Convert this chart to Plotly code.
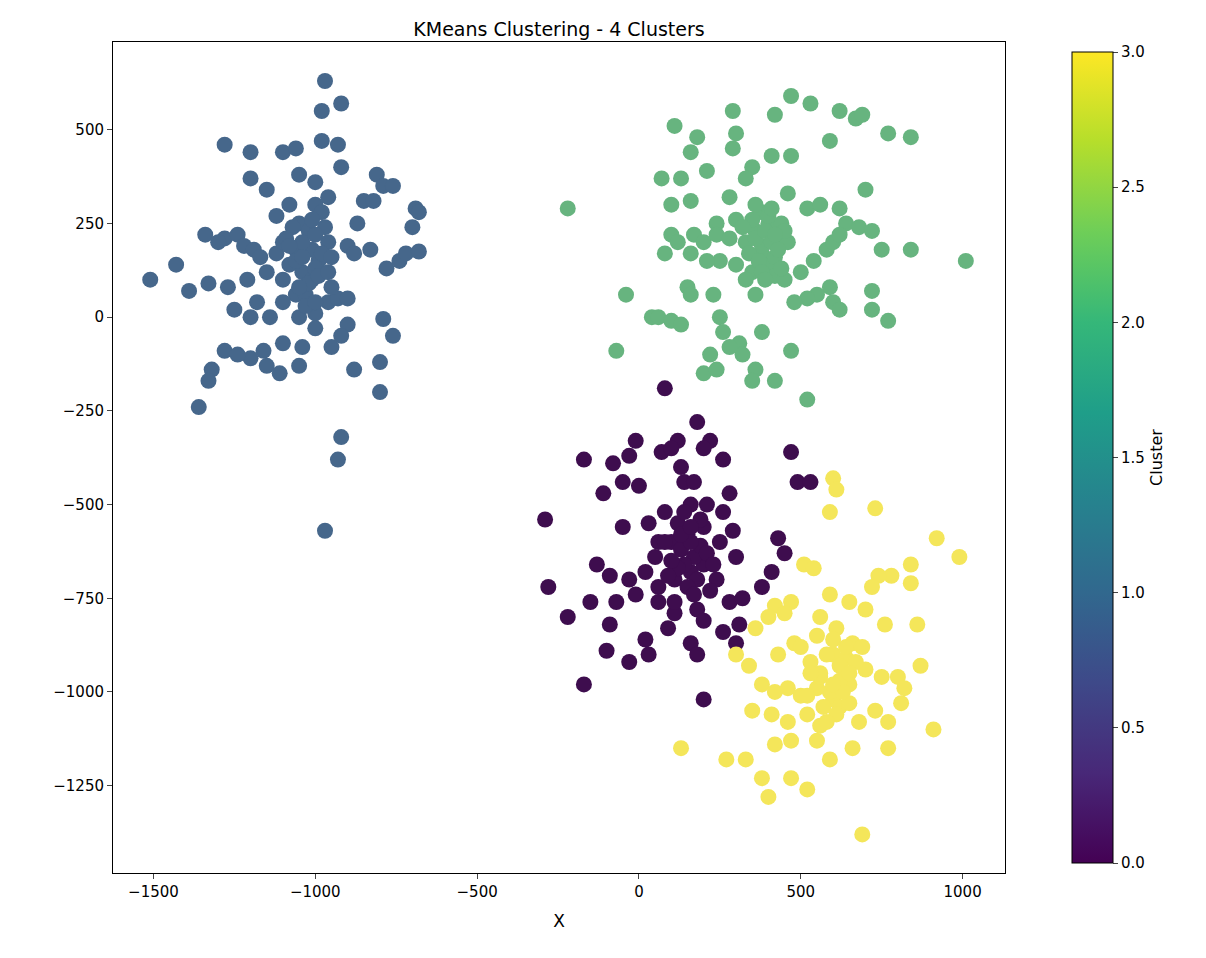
import plotly.graph_objects as go

# Cluster 0 (purple)
c0_x = [80, 180, 220, 120, -10, -30, -170, -80, 70, 100, 200, 260, 0, 130, -50, 140, 170, 280, 470, 490,
        530, 80, 160, 210, 260, -110, -290, -50, 30, 100, 150, 200, 250, 290, 300, 430, 450, 410, 380, -130,
        -280, -90, -30, 20, 60, 110, 160, 200, 240, 280, 320, -150, -70, -10, 60, 110, 180, 200, 260, 300,
        310, -220, -90, 20, 90, -100, -30, 30, 160, 180, -170, 200, 130, 170, 120, 50, 190,
        140, 160, 180, 120, 100, 150, 170, 130, 90, 210, 230, 60, 140, 190, 110, 80, 220, 160]
c0_y = [-190, -280, -330, -330, -330, -370, -380, -390, -360, -350, -350, -380, -450, -400, -440, -440, -440, -470, -360, -440,
        -440, -520, -500, -500, -520, -470, -540, -560, -550, -600, -580, -560, -600, -570, -640, -590, -630, -680, -720, -660,
        -720, -690, -700, -680, -720, -700, -680, -660, -700, -760, -750, -760, -760, -740, -760, -790, -780, -810, -840, -870,
        -820, -800, -820, -860, -830, -890, -920, -900, -870, -900, -980, -1020, -620, -640, -550, -640, -610,
        -660, -600, -700, -670, -650, -720, -740, -580, -690, -630, -660, -600, -520, -540, -760, -600, -730, -560]

# Cluster 1 (blue)
c1_x = [-970, -920, -980, -1280, -1200, -1100, -1060, -980, -930, -920, -1200, -1150, -1050, -1000, -810, -790, -760, -850, -820, -690,
        -680, -1280, -1240, -1340, -1300, -1220, -1190, -1120, -1100, -1050, -1020, -970, -960, -870, -900, -880, -830, -780, -740, -720,
        -680, -700, -1510, -1430, -1390, -1330, -1270, -1210, -1170, -1150, -1080, -1040, -1010, -990, -1060, -1100, -1180, -1250, -1200, -1140,
        -1050, -1000, -960, -930, -900, -1000, -1040, -1100, -1160, -1200, -1280, -1320, -1330, -1360, -1240, -1150, -1110, -1050, -900, -920,
        -950, -880, -800, -790, -760, -800, -920, -930, -970, -1000, -960, -1080, -1120, -1010, -1060, -1000, -950, -1030, -980, -1100,
        -1040, -1000, -1060, -980, -1020, -1070, -990, -1030, -1090, -950, -1010, -1050, -960, -1080, -1000, -1040]
c1_y = [630, 570, 550, 460, 440, 440, 450, 470, 460, 400, 370, 340, 380, 360, 380, 350, 350, 310, 310, 290,
        280, 210, 220, 220, 200, 190, 180, 170, 200, 250, 230, 240, 200, 250, 190, 170, 180, 130, 150, 170,
        175, 240, 100, 140, 70, 90, 80, 100, 160, 120, 140, 120, 100, 150, 60, 40, 40, 20, 0, 0,
        0, 10, 40, 50, 50, -30, -80, -70, -90, -110, -90, -140, -170, -240, -100, -130, -150, -130, -20, -50,
        -80, -140, -120, -5, -50, -200, -320, -380, -570, 300, 320, 300, 270, 180, 180, 130, 80, 60, 280, 100,
        200, 220, 150, 170, 90, 240, 110, 30, 210, 160, 260, 80, 120, 190, 40, 160]

# Cluster 2 (green)
c2_x = [290, 420, 470, 530, 620, 670, 690, 770, 840, 110, 180, 300, 160, 290, 350, 410, 470, 590, 130, 210,
        330, -220, 70, 100, 160, 280, 240, 300, 380, 460, 520, 560, 620, 640, 680, 700, 720, 750, 840, 1010,
        100, 120, 170, 200, 240, 280, 330, 360, 400, 430, 460, 380, 400, 350, 300, 250, 210, 160, 80, 330,
        360, 420, 450, 500, 540, 580, 600, 620, 590, 550, 520, 480, 600, 620, 720, 720, 770, 150, 160, 230,
        250, 40, 60, 100, 130, -70, -40, 260, 380, 310, 320, 280, 220, 360, 200, 240, 470, 420, 350, 520,
        380, 420, 440, 360, 390, 410, 340, 370, 430, 400, 350, 380, 320, 450, 410, 390, 360, 440, 420]
c2_y = [550, 540, 590, 570, 550, 530, 540, 490, 480, 510, 480, 490, 440, 450, 400, 430, 430, 470, 370, 390,
        370, 290, 370, 300, 310, 320, 250, 260, 280, 330, 290, 300, 290, 250, 240, 340, 230, 180, 180, 150,
        220, 200, 220, 200, 220, 210, 200, 230, 250, 210, 200, 170, 140, 120, 140, 150, 150, 170, 170, 100,
        60, 110, 100, 120, 150, 180, 200, 220, 80, 60, 50, 40, 40, 20, 70, 20, -10, 80, 60, 60,
        0, 0, 0, -10, -20, -90, 60, -40, -40, -70, -100, -80, -100, -140, -150, -140, -90, -170, -170, -220,
        190, 160, 250, 210, 230, 200, 170, 150, 180, 270, 260, 120, 240, 230, 290, 100, 300, 130, 220]

# Cluster 3 (yellow)
c3_x = [600, 610, 590, 730, 920, 990, 840, 780, 840, 740, 720, 510, 540, 590, 650, 700, 760, 860, 420, 470,
        450, 400, 560, 610, 660, 480, 360, 300, 340, 430, 500, 530, 600, 640, 700, 750, 800, 870, 380, 420,
        460, 500, 550, 600, 650, 820, 810, 350, 410, 460, 520, 560, 620, 680, 730, 770, 910, 130, 270, 330,
        420, 470, 550, 590, 660, 770, 380, 470, 520, 400, 690, 560, 620, 570, 650,
        580, 620, 600, 560, 640, 590, 530, 670, 610, 550, 630, 580, 690, 520, 600, 650]
c3_y = [-430, -460, -520, -510, -590, -640, -660, -690, -710, -690, -720, -660, -670, -740, -760, -780, -820, -820, -770, -760,
        -790, -800, -800, -830, -870, -870, -830, -900, -930, -900, -880, -920, -900, -910, -940, -960, -960, -930, -980, -1000,
        -990, -1010, -990, -1020, -980, -990, -1030, -1050, -1060, -1080, -1060, -1090, -1040, -1080, -1050, -1080, -1100, -1150, -1180, -1180,
        -1140, -1130, -1130, -1180, -1150, -1150, -1230, -1230, -1260, -1280, -1380, -950, -970, -1040, -1030,
        -900, -930, -860, -960, -880, -1000, -950, -920, -1060, -850, -1000, -1080, -880, -1010, -980, -950]

clusters = [(c0_x, c0_y, "#3e0d4e"), (c1_x, c1_y, "#46678b"),
            (c2_x, c2_y, "#67b47f"), (c3_x, c3_y, "#f4e65a")]

fig = go.Figure()
for cx, cy, col in clusters:
    fig.add_trace(go.Scatter(x=cx, y=cy, mode="markers", showlegend=False,
                             marker=dict(size=16, color=col)))

# colorbar-only trace
fig.add_trace(go.Scatter(
    x=[None], y=[None], mode="markers", showlegend=False, hoverinfo="skip",
    marker=dict(color=[0, 3], colorscale="Viridis", cmin=0, cmax=3, showscale=True,
                colorbar=dict(title=dict(text="Cluster", side="right", font=dict(size=16)),
                              x=1.064, xanchor="left", y=0.5, len=1, lenmode="fraction",
                              thickness=41, thicknessmode="pixels", outlinewidth=1, outlinecolor="black",
                              tickmode="array", tickvals=[0, 0.5, 1, 1.5, 2, 2.5, 3],
                              ticktext=["0.0", "0.5", "1.0", "1.5", "2.0", "2.5", "3.0"],
                              ticks="outside", ticklen=5, tickfont=dict(size=15))),
))

axis_style = dict(showgrid=False, zeroline=False, showline=True, linecolor="black", mirror=True,
                  ticks="outside", ticklen=5, tickfont=dict(size=15))
fig.update_xaxes(range=[-1625, 1131], tickvals=[-1500, -1000, -500, 0, 500, 1000],
                 ticktext=["\u22121500", "\u22121000", "\u2212500", "0", "500", "1000"],
                 title=dict(text="X", font=dict(size=17)), **axis_style)
fig.update_yaxes(range=[-1483, 734], tickvals=[-1250, -1000, -750, -500, -250, 0, 250, 500],
                 ticktext=["\u22121250", "\u22121000", "\u2212750", "\u2212500", "\u2212250", "0", "250", "500"],
                 **axis_style)
fig.update_layout(
    width=1206, height=958,
    title=dict(text="KMeans Clustering - 4 Clusters", x=0.5, xref="paper", y=0.985, font=dict(size=19)),
    font=dict(family="DejaVu Sans", color="black"),
    plot_bgcolor="white", paper_bgcolor="white",
    margin=dict(l=105, r=209, t=34, b=93),
)

fig.write_html("out.html")
